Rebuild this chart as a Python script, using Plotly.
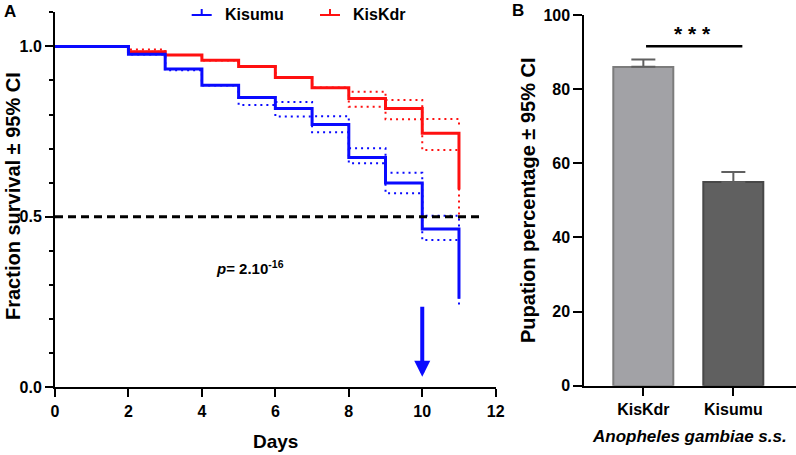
import plotly.graph_objects as go

# ---------------- data ----------------
days = [0, 2, 3, 4, 5, 6, 7, 8, 9, 10, 11]
kisumu_surv = [1.0, 0.977, 0.934, 0.886, 0.850, 0.818, 0.771, 0.674, 0.599, 0.464, 0.26]
kisumu_upper = [1.0, 0.977, 0.934, 0.886, 0.850, 0.837, 0.795, 0.701, 0.629, 0.503, 0.29]
kisumu_lower = [1.0, 0.977, 0.930, 0.886, 0.828, 0.794, 0.748, 0.657, 0.569, 0.432, 0.235]
kiskdr_surv = [1.0, 0.984, 0.975, 0.959, 0.941, 0.909, 0.879, 0.847, 0.818, 0.745, 0.58]
kiskdr_upper = [1.0, 0.991, 0.975, 0.959, 0.941, 0.909, 0.879, 0.867, 0.843, 0.787, 0.765]
kiskdr_lower = [1.0, 0.984, 0.975, 0.959, 0.941, 0.909, 0.879, 0.823, 0.786, 0.696, 0.49]
median_line = 0.5
arrow_day = 10

strains = ["KisKdr", "Kisumu"]
pupation = [86.05, 54.9]
pupation_ci_up = [1.95, 2.75]
sig_y = 91.6

W, H = 796, 455
def px(x): return x / W
def py(y): return 1 - y / H

BLUE = "#0a0aff"
RED = "#ff1010"
FONT = "Liberation Sans, Arial, sans-serif"

fig = go.Figure()

# Survival curves (panel A)
for surv, up, lo, col, name in [
    (kiskdr_surv, kiskdr_upper, kiskdr_lower, RED, "KisKdr"),
    (kisumu_surv, kisumu_upper, kisumu_lower, BLUE, "Kisumu"),
]:
    for ci in (up, lo):
        fig.add_trace(go.Scatter(x=days, y=ci, mode="lines", line_shape="hv",
                                 line=dict(color=col, width=2, dash="2px,4px"),
                                 showlegend=False, hoverinfo="skip", xaxis="x", yaxis="y"))
    fig.add_trace(go.Scatter(x=days, y=surv, mode="lines", line_shape="hv",
                             line=dict(color=col, width=3), name=name,
                             showlegend=False, xaxis="x", yaxis="y"))

# Bars (panel B)
fig.add_trace(go.Bar(x=strains, y=pupation, width=0.667,
                     marker=dict(color=["#a2a2a6", "#606060"],
                                 line=dict(color=["#7c7c7c", "#484848"], width=2)),
                     error_y=dict(type="data", symmetric=False, array=pupation_ci_up,
                                  arrayminus=[0, 0], color="#606060", thickness=2, width=12),
                     showlegend=False, xaxis="x2", yaxis="y2"))

tickfont_a = dict(family="Liberation Sans Narrow, Arial Narrow, " + FONT, size=16, color="black", weight="bold")
tickfont_b = dict(family=FONT, size=16, color="black", weight="bold")

fig.update_layout(
    width=W, height=H, margin=dict(l=0, r=0, t=0, b=0),
    paper_bgcolor="white", plot_bgcolor="white",
    font=dict(family=FONT, color="black"),
    showlegend=False,
    xaxis=dict(domain=[px(55), px(495.7)], range=[0, 12], dtick=2, tick0=0,
               showgrid=False, zeroline=False, showline=True, linecolor="black", linewidth=2,
               ticks="outside", ticklen=8, tickwidth=2, tickcolor="black",
               tickfont=tickfont_a, anchor="y", automargin=False),
    yaxis=dict(domain=[py(387.3), py(12.3)], range=[0, 1.1], dtick=0.5, tick0=0,
               tickformat=".1f", showgrid=False, zeroline=False, showline=True,
               linecolor="black", linewidth=2, ticks="outside", ticklen=8, tickwidth=2,
               tickcolor="black", tickfont=tickfont_a, anchor="x", automargin=False,
               minor=dict(dtick=0.1, tick0=0, ticklen=4, tickwidth=2, tickcolor="black", ticks="outside")),
    xaxis2=dict(domain=[px(584.3), 1.0], range=[-0.656, 1.696], type="category",
                showgrid=False, zeroline=False, showline=True, linecolor="black", linewidth=2,
                ticks="outside", ticklen=8, tickwidth=2, tickcolor="black",
                tickfont=tickfont_b, anchor="y2", automargin=False),
    yaxis2=dict(domain=[py(385.7), py(15)], range=[0, 100], dtick=20,
                showgrid=False, zeroline=False, showline=True, linecolor="black", linewidth=2,
                ticks="outside", ticklen=9, tickwidth=2, tickcolor="black",
                tickfont=tickfont_b, anchor="x2", automargin=False),
    bargap=0,
)

shapes = []
# median line
shapes.append(dict(type="line", xref="x", yref="y", x0=0, x1=11.65, y0=median_line, y1=median_line,
                   line=dict(color="black", width=3, dash="8px,5px")))
# significance bar
shapes.append(dict(type="line", xref="x2", yref="y2", x0=0.03, x1=1.1, y0=sig_y, y1=sig_y,
                   line=dict(color="black", width=2.5)))
# legend glyphs
for (x0, x1, col) in [(191.7, 211.7, BLUE), (320, 340, RED)]:
    shapes.append(dict(type="line", xref="paper", yref="paper", x0=px(x0), x1=px(x1),
                       y0=py(15), y1=py(15), line=dict(color=col, width=2)))
    xm = (x0 + x1) / 2
    shapes.append(dict(type="line", xref="paper", yref="paper", x0=px(xm), x1=px(xm),
                       y0=py(15), y1=py(9), line=dict(color=col, width=2)))
fig.update_layout(shapes=shapes)

ann = []
def add_text(text, x, y, size, angle=0, italic=False, xanchor="center", yanchor="middle"):
    ann.append(dict(text=text, x=px(x), y=py(y), xref="paper", yref="paper", showarrow=False,
                    textangle=angle, xanchor=xanchor, yanchor=yanchor,
                    font=dict(family=FONT, size=size, color="black", weight="bold",
                              style="italic" if italic else "normal")))

add_text("A", 10, 11, 17)
add_text("B", 518, 10, 17)
add_text("Fraction survival ± 95% CI", 13, 196, 20, angle=-90)
add_text("Days", 275, 441, 19)
add_text("Pupation percentage ± 95% CI", 528, 200, 20, angle=-90)
add_text("Anopheles gambiae s.s.", 689, 436, 17, italic=True)
add_text("Kisumu", 223, 15, 16, xanchor="left")
add_text("KisKdr", 351, 15, 16, xanchor="left")

# p-value
ann.append(dict(text="<i>p</i>= 2.10<sup>-16</sup>", x=5.3, y=0.35, xref="x", yref="y",
                showarrow=False, font=dict(family=FONT, size=15, color="black", weight="bold")))
# significance stars
ann.append(dict(text="* * *", x=0.55, y=95.0, xref="x2", yref="y2", showarrow=False,
                font=dict(family=FONT, size=21, color="black", weight="bold")))
# arrow at day 10
ann.append(dict(text="", x=arrow_day, y=0.031, ax=arrow_day, ay=0.241, xref="x", yref="y",
                axref="x", ayref="y", showarrow=True, arrowhead=2, arrowsize=0.8,
                arrowwidth=4, arrowcolor=BLUE))
fig.update_layout(annotations=ann)

fig.write_html("out.html", config={"displayModeBar": False},
               post_script="document.body.style.margin='0';document.body.style.padding='0';")
